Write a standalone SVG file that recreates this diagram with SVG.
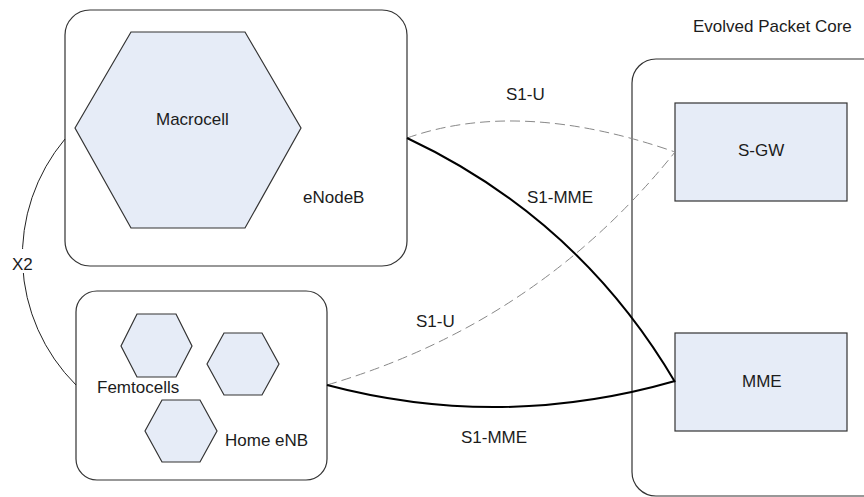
<svg xmlns="http://www.w3.org/2000/svg" width="864" height="497" viewBox="0 0 864 497">
<style>
.box{fill:#fff;stroke:#333;stroke-width:1.2}
.cell{fill:#e6ecf7;stroke:#333;stroke-width:1.2}
.t{font-family:"Liberation Sans",Arial,sans-serif;font-size:17px;fill:#1c1c1c}
.solid{fill:none;stroke:#000;stroke-width:2}
.dash{fill:none;stroke:#888;stroke-width:1;stroke-dasharray:10 5}
.thin{fill:none;stroke:#222;stroke-width:1}
</style>
<rect width="864" height="497" fill="#fff"/>
<g id="epc">
<rect class="box" x="632" y="59" width="260" height="437" rx="24"/>
<text class="t" x="693" y="32">Evolved Packet Core</text>
</g>
<g id="enodeb">
<rect class="box" x="65" y="10" width="342" height="256" rx="25"/>
<text class="t" x="303" y="203">eNodeB</text>
</g>
<g id="macrocell">
<polygon class="cell" points="75,128 131,32 245,32 301,128 245,228 131,228"/>
<text class="t" x="156" y="125">Macrocell</text>
</g>
<g id="homeenb">
<rect class="box" x="76" y="291" width="251" height="189" rx="21"/>
<polygon class="cell" points="121,346 137,314 176,314 192,346 176,377 137,377"/>
<polygon class="cell" points="207,364 224,333 262,333 279,364 262,395 224,395"/>
<polygon class="cell" points="145,431 162,400 200,400 217,431 200,462 162,462"/>
<text class="t" x="97" y="393">Femtocells</text>
<text class="t" x="225" y="446">Home eNB</text>
</g>
<g id="sgw">
<rect class="cell" x="675" y="103" width="172" height="98"/>
<text class="t" x="738" y="156">S-GW</text>
</g>
<g id="mme">
<rect class="cell" x="675" y="333" width="172" height="98"/>
<text class="t" x="742" y="387">MME</text>
</g>
<g id="connectors">
<path class="thin" d="M65,139 A182,182 0 0 0 76,385"/>
<rect x="10" y="249" width="26" height="24" fill="#fff"/>
<text class="t" x="12" y="270">X2</text>
<path class="dash" d="M407,138 Q520,98 675,152"/>
<path class="solid" d="M407,138 Q579,219 675,382"/>
<path class="dash" d="M327,385 Q538,323 675,152"/>
<path class="solid" d="M327,385 Q501,431 675,381"/>
<text class="t" x="506" y="100">S1-U</text>
<text class="t" x="527" y="203">S1-MME</text>
<text class="t" x="416" y="327">S1-U</text>
<text class="t" x="461" y="443">S1-MME</text>
</g>
</svg>
